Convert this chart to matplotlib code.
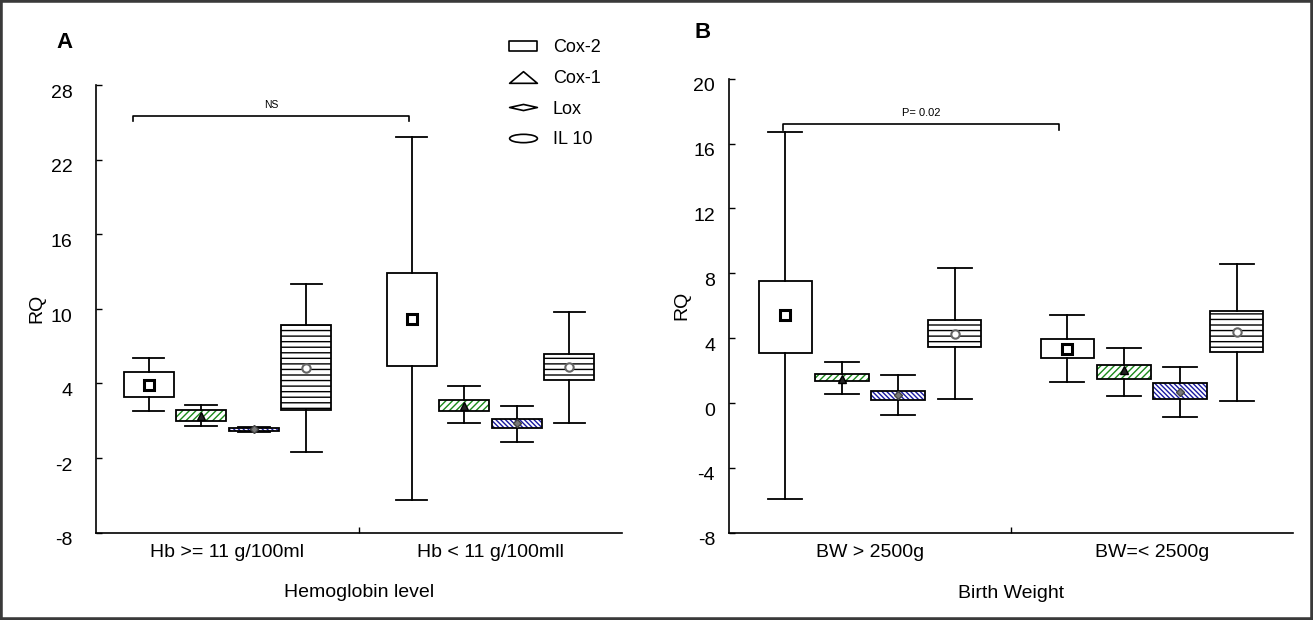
import numpy as np
import matplotlib
matplotlib.use("Agg")
import matplotlib.pyplot as plt
from matplotlib.path import Path
from matplotlib.lines import Line2D
from matplotlib.patches import Rectangle
from matplotlib.transforms import Affine2D, ScaledTranslation

plt.rcParams['font.family'] = ['Liberation Sans', 'DejaVu Sans']
plt.rcParams['hatch.linewidth'] = 1.0
plt.rcParams['axes.unicode_minus'] = False

genes = ['Cox-2', 'Cox-1', 'Lox', 'IL 10']

# Panel A: hemoglobin level
groups_A = ['Hb >= 11 g/100ml', 'Hb < 11 g/100mll']
whislo_A = {'Cox-2': [1.8, -5.4], 'Cox-1': [0.6, 0.8], 'Lox': [0.1, -0.75], 'IL 10': [-1.55, 0.8]}
q1_A = {'Cox-2': [2.9, 5.4], 'Cox-1': [1.0, 1.8], 'Lox': [0.2, 0.45], 'IL 10': [1.85, 4.25]}
q3_A = {'Cox-2': [4.9, 12.9], 'Cox-1': [1.85, 2.7], 'Lox': [0.4, 1.1], 'IL 10': [8.7, 6.4]}
whishi_A = {'Cox-2': [6.0, 23.8], 'Cox-1': [2.3, 3.8], 'Lox': [0.5, 2.15], 'IL 10': [12.0, 9.75]}
mean_A = {'Cox-2': [3.9, 9.2], 'Cox-1': [1.4, 2.2], 'Lox': [0.3, 0.8], 'IL 10': [5.2, 5.3]}

# Panel B: birth weight
groups_B = ['BW > 2500g', 'BW=< 2500g']
whislo_B = {'Cox-2': [-5.9, 1.3], 'Cox-1': [0.55, 0.45], 'Lox': [-0.75, -0.85], 'IL 10': [0.25, 0.1]}
q1_B = {'Cox-2': [3.1, 2.8], 'Cox-1': [1.35, 1.5], 'Lox': [0.2, 0.25], 'IL 10': [3.45, 3.15]}
q3_B = {'Cox-2': [7.5, 3.95], 'Cox-1': [1.8, 2.35], 'Lox': [0.75, 1.2], 'IL 10': [5.1, 5.65]}
whishi_B = {'Cox-2': [16.7, 5.45], 'Cox-1': [2.55, 3.4], 'Lox': [1.75, 2.2], 'IL 10': [8.3, 8.6]}
mean_B = {'Cox-2': [5.4, 3.35], 'Cox-1': [1.5, 2.0], 'Lox': [0.5, 0.7], 'IL 10': [4.25, 4.4]}

# significance brackets (x from, x to, y) and labels
bracket_A = (0.64, 1.69, 25.5, 'NS')
bracket_B = (0.69, 1.67, 17.2, 'P= 0.02')

offsets = [-0.3, -0.1, 0.1, 0.3]
box_w = 0.19
cap_w = 0.12

hatches = {'Cox-2': None, 'Cox-1': '/////', 'Lox': '\\' * 7, 'IL 10': '---'}
hatch_col = {'Cox-2': 'black', 'Cox-1': '#1a8a1a', 'Lox': '#1a1aa0', 'IL 10': 'black'}
mean_style = {
    'Cox-2': dict(marker='s', markersize=7, markerfacecolor='white', markeredgecolor='black', markeredgewidth=2.2),
    'Cox-1': dict(marker='^', markersize=6, markerfacecolor='#222222', markeredgecolor='black'),
    'Lox': dict(marker='D', markersize=4, markerfacecolor='#777777', markeredgecolor='#444444'),
    'IL 10': dict(marker='o', markersize=6, markerfacecolor='white', markeredgecolor='#666666', markeredgewidth=1.5),
}


def draw_panel(ax, whislo, q1, q3, whishi, means):
    for k, g in enumerate(genes):
        stats = []
        for i in range(2):
            stats.append(dict(whislo=whislo[g][i], q1=q1[g][i], med=q3[g][i],
                              q3=q3[g][i], whishi=whishi[g][i], mean=means[g][i], fliers=[]))
        pos = [1 + offsets[k], 2 + offsets[k]]
        if hatches[g]:
            # hatch layer, its colour follows the edge colour
            ax.bxp(stats, positions=pos, widths=box_w, patch_artist=True,
                   showmeans=False, showcaps=False, showfliers=False,
                   boxprops=dict(facecolor='white', edgecolor=hatch_col[g], hatch=hatches[g], linewidth=0),
                   whiskerprops=dict(linewidth=0), medianprops=dict(linewidth=0),
                   manage_ticks=False)
        ax.bxp(stats, positions=pos, widths=box_w, capwidths=cap_w, patch_artist=True,
               showmeans=True, showfliers=False,
               boxprops=dict(facecolor='white' if not hatches[g] else 'none', edgecolor='black', linewidth=1.3),
               whiskerprops=dict(color='black', linewidth=1.3),
               capprops=dict(color='black', linewidth=1.3),
               medianprops=dict(linewidth=0),
               meanprops=dict(linestyle='none', **mean_style[g]),
               manage_ticks=False)


def style_axes(ax, ylim, yticks, groups, xlabel, pad):
    ax.set_xlim(0.5, 2.5)
    ax.set_ylim(*ylim)
    ax.set_yticks(yticks)
    ax.set_xticks([1.5])
    ax.set_xticklabels([''])
    ax.tick_params(axis='both', direction='in', length=4, width=1, labelsize=14)
    ax.tick_params(axis='y', pad=pad)
    # the original tick numbers sit a little below their ticks
    shift = ScaledTranslation(0, -4.5 / 72, ax.figure.dpi_scale_trans)
    for lbl in ax.get_yticklabels():
        lbl.set_transform(lbl.get_transform() + shift)
    for i, lab in enumerate(groups):
        ax.text(i + 1, -0.025, lab, transform=ax.get_xaxis_transform(),
                ha='center', va='top', fontsize=14)
    ax.text(0.5, -0.115, xlabel, transform=ax.transAxes, ha='center', va='top', fontsize=14)
    ax.spines['top'].set_visible(False)
    ax.spines['right'].set_visible(False)
    ax.spines['left'].set_linewidth(1.2)
    ax.spines['bottom'].set_linewidth(1.2)


def draw_bracket(ax, br, fs):
    x0, x1, y, lab = br
    h = (ax.get_ylim()[1] - ax.get_ylim()[0]) * 0.012
    ax.plot([x0, x0, x1, x1], [y - h, y, y, y - h], color='black', linewidth=1.2)
    ax.text((x0 + x1) / 2, y + h * 1.2, lab, ha='center', va='bottom', fontsize=fs)


fig = plt.figure(figsize=(13.13, 6.2), dpi=100)
axA = fig.add_axes([0.0731, 0.141, 0.4006, 0.722])
axB = fig.add_axes([0.5552, 0.141, 0.4296, 0.732])

draw_panel(axA, whislo_A, q1_A, q3_A, whishi_A, mean_A)
style_axes(axA, (-8, 28), np.arange(-8, 29, 6), groups_A, 'Hemoglobin level', 17)
draw_bracket(axA, bracket_A, 7.5)
axA.set_ylabel('RQ', fontsize=14, labelpad=4)

draw_panel(axB, whislo_B, q1_B, q3_B, whishi_B, mean_B)
style_axes(axB, (-8, 20), np.arange(-8, 21, 4), groups_B, 'Birth Weight', 10)
draw_bracket(axB, bracket_B, 8)
axB.set_ylabel('RQ', fontsize=14, labelpad=2)

fig.text(0.049, 0.932, 'A', fontsize=16, fontweight='bold', ha='center', va='center')
fig.text(0.535, 0.948, 'B', fontsize=16, fontweight='bold', ha='center', va='center')

# legend with outline shapes
rect = Path([(-1, -0.36), (1, -0.36), (1, 0.36), (-1, 0.36), (-1, -0.36)],
            [Path.MOVETO, Path.LINETO, Path.LINETO, Path.LINETO, Path.CLOSEPOLY])
tri = Path([(-1, -0.42), (1, -0.42), (0, 0.42), (-1, -0.42)],
           [Path.MOVETO, Path.LINETO, Path.LINETO, Path.CLOSEPOLY])
dia = Path([(-1, 0), (0, 0.22), (1, 0), (0, -0.22), (-1, 0)],
           [Path.MOVETO, Path.LINETO, Path.LINETO, Path.LINETO, Path.CLOSEPOLY])
ell = Path.unit_circle().transformed(Affine2D().scale(1, 0.3))
handles = [Line2D([], [], linestyle='none', marker=m, markersize=20, markerfacecolor='white',
                  markeredgecolor='black', markeredgewidth=1.2)
           for m in [rect, tri, dia, ell]]
fig.legend(handles, genes, loc='upper left', bbox_to_anchor=(0.373, 0.963), frameon=False,
           fontsize=13, labelspacing=0.76, handletextpad=0.7, handlelength=1.9)

fig.add_artist(Rectangle((0, 0), 1, 1, transform=fig.transFigure, fill=False,
                         edgecolor='#3a3a3a', linewidth=4))

fig.savefig('out.png', dpi=100)
